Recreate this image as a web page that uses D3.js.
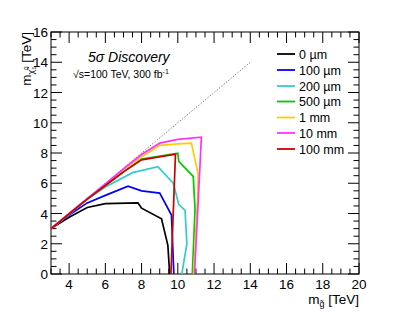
<!DOCTYPE html>
<html>
<head>
<meta charset="utf-8">
<script src="https://cdn.jsdelivr.net/npm/d3@7"></script>
<style>
  body { margin: 0; background: #fff; }
  svg { font-family: "Liberation Sans", Arial, sans-serif; }
</style>
</head>
<body>
<div id="chart"></div>
<script>
// discovery reach curves, [m_gluino, m_chi] in TeV
var curve0um   = [[3,3],[4,3.75],[5,4.4],[6,4.65],[7.8,4.7],[8,4.35],[9.1,3.65],[9.45,1.9],[9.55,0]];
var curve100um = [[3,3],[4,3.9],[5,4.7],[6,5.2],[7.25,5.8],[8,5.5],[9,5.35],[9.65,3.9],[9.78,0]];
var curve200um = [[3,3],[4,3.95],[5,4.95],[6,5.75],[7.5,6.7],[8.9,7.1],[9.75,6.0],[10.05,4.6],[10.4,4.2],[10.5,2.0],[10.22,0]];
var curve500um = [[3,3],[4,3.97],[5,4.95],[6,5.85],[7,6.75],[8,7.6],[10,7.98],[10.05,7.45],[10.85,6.45],[10.95,4.3],[10.8,0]];
var curve1mm   = [[3,3],[4,4],[5,4.97],[6,5.9],[7,6.9],[8,7.75],[9,8.5],[10,8.6],[10.75,8.65],[11.12,6.6],[11.1,5.2],[10.87,0]];
var curve10mm  = [[3,3],[4,4],[5,4.98],[6,5.95],[7,6.95],[8,7.9],[9,8.65],[10,8.9],[11.3,9.05],[11.2,6.6],[10.92,0]];
var curve100mm = [[3,3],[4,3.97],[5,4.95],[6,5.85],[7,6.75],[8,7.55],[9.87,7.92],[9.62,0]];
var diagonal   = [[3,3],[14,14]];

var labels = ["0 \u00b5m", "100 \u00b5m", "200 \u00b5m", "500 \u00b5m", "1 mm", "10 mm", "100 mm"];
var colors = ["#000000", "#0000ff", "#33cccc", "#00cc00", "#ffcc00", "#ff33ff", "#cc0000"];
var curves = [curve0um, curve100um, curve200um, curve500um, curve1mm, curve10mm, curve100mm];

var xTicks = [4, 6, 8, 10, 12, 14, 16, 18, 20];
var yTicks = [0, 2, 4, 6, 8, 10, 12, 14, 16];

var W = 399, H = 316;
var margin = {top: 32, right: 40, bottom: 42, left: 51};

var svg = d3.select("#chart").append("svg")
  .attr("width", W).attr("height", H);

var x = d3.scaleLinear().domain([3, 20]).range([margin.left, W - margin.right]);
var y = d3.scaleLinear().domain([0, 16]).range([H - margin.bottom, margin.top]);

var majLen = 11, minLen = 5.5;
var xMinor = d3.range(3, 20.01, 0.5), yMinor = d3.range(0, 16.01, 0.5);

var g = svg.append("g").attr("stroke", "#000").attr("stroke-width", 1);
var y0 = y(0), y1 = y(16), x0 = x(3), x1 = x(20);

// ticks pointing inwards on all four sides, like ROOT
xMinor.forEach(function(v) {
  var L = (v % 2 === 0) ? majLen : minLen;
  g.append("line").attr("x1", x(v)).attr("x2", x(v)).attr("y1", y0).attr("y2", y0 - L);
  g.append("line").attr("x1", x(v)).attr("x2", x(v)).attr("y1", y1).attr("y2", y1 + L);
});
yMinor.forEach(function(v) {
  var L = (v % 2 === 0) ? majLen : minLen;
  g.append("line").attr("y1", y(v)).attr("y2", y(v)).attr("x1", x0).attr("x2", x0 + L);
  g.append("line").attr("y1", y(v)).attr("y2", y(v)).attr("x1", x1).attr("x2", x1 - L);
});

// frame
svg.append("rect")
  .attr("x", x0).attr("y", y1).attr("width", x1 - x0).attr("height", y0 - y1)
  .attr("fill", "none").attr("stroke", "#000").attr("stroke-width", 1);

// tick labels
svg.append("g").selectAll("text").data(xTicks).enter().append("text")
  .attr("x", function(d) { return x(d); })
  .attr("y", y0 + 15)
  .attr("text-anchor", "middle")
  .attr("font-size", 13.5)
  .text(function(d) { return d; });

svg.append("g").selectAll("text").data(yTicks).enter().append("text")
  .attr("x", x0 - 3)
  .attr("y", function(d) { return y(d) + 5; })
  .attr("text-anchor", "end")
  .attr("font-size", 13.5)
  .text(function(d) { return d; });

// axis titles
var xt = svg.append("text")
  .attr("x", x1).attr("y", H - 12)
  .attr("text-anchor", "end")
  .attr("font-size", 13.5);
xt.append("tspan").text("m");
xt.append("tspan").attr("font-size", 9).attr("dy", 3).text("g\u0303");
xt.append("tspan").attr("dy", -3).text(" [TeV]");

var yt = svg.append("text")
  .attr("transform", "translate(31," + y1 + ") rotate(-90)")
  .attr("text-anchor", "end")
  .attr("font-size", 13.5);
yt.append("tspan").text("m");
yt.append("tspan").attr("font-size", 9).attr("dy", 3).text("\u03c7\u0303");
yt.append("tspan").attr("font-size", 6).attr("dy", -6).text("0");
yt.append("tspan").attr("font-size", 6).attr("dx", -3.4).attr("dy", 8).text("1");
yt.append("tspan").attr("dy", -5).text(" [TeV]");

// dotted diagonal
var line = d3.line().x(function(d) { return x(d[0]); }).y(function(d) { return y(d[1]); });

svg.append("path")
  .datum(diagonal)
  .attr("d", line)
  .attr("fill", "none")
  .attr("stroke", "#444")
  .attr("stroke-width", 0.8)
  .attr("stroke-dasharray", "1.2,1.8");

// curves
svg.append("g").selectAll("path").data(curves).enter().append("path")
  .attr("d", line)
  .attr("fill", "none")
  .attr("stroke", function(d, i) { return colors[i]; })
  .attr("stroke-width", 1.7)
  .attr("stroke-linejoin", "miter");

// labels
svg.append("text")
  .attr("x", 88).attr("y", 62)
  .attr("font-size", 14).attr("font-style", "italic")
  .text("5\u03c3 Discovery");

var lumi = svg.append("text")
  .attr("x", 73).attr("y", 78)
  .attr("font-size", 10.5);
lumi.append("tspan").text("\u221as=100 TeV, 300 fb");
lumi.append("tspan").attr("font-size", 7).attr("dy", -4).text("-1");

// legend
var legY = [54, 70, 86, 101.5, 117.5, 133, 149];
var leg = svg.append("g").selectAll("g").data(labels).enter().append("g")
  .attr("transform", function(d, i) { return "translate(0," + legY[i] + ")"; });
leg.append("line")
  .attr("x1", 277).attr("x2", 295)
  .attr("stroke", function(d, i) { return colors[i]; })
  .attr("stroke-width", 1.8);
leg.append("text")
  .attr("x", 299).attr("y", 4.5)
  .attr("font-size", 12.5)
  .text(function(d) { return d; });
</script>
</body>
</html>
